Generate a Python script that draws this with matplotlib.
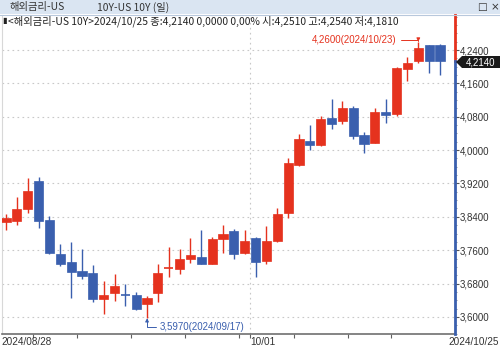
import datetime as dt
import matplotlib
matplotlib.use("Agg")
import matplotlib.pyplot as plt
from matplotlib.patches import Rectangle, Polygon
import numpy as np

dates = ["2024/08/28", "2024/08/29", "2024/08/30", "2024/09/03", "2024/09/04", "2024/09/05",
         "2024/09/06", "2024/09/09", "2024/09/10", "2024/09/11", "2024/09/12", "2024/09/13",
         "2024/09/16", "2024/09/17", "2024/09/18", "2024/09/19", "2024/09/20", "2024/09/23",
         "2024/09/24", "2024/09/25", "2024/09/26", "2024/09/27", "2024/09/30", "2024/10/01",
         "2024/10/02", "2024/10/03", "2024/10/04", "2024/10/07", "2024/10/08", "2024/10/09",
         "2024/10/10", "2024/10/11", "2024/10/15", "2024/10/16", "2024/10/17", "2024/10/18",
         "2024/10/21", "2024/10/22", "2024/10/23", "2024/10/24", "2024/10/25"]
opens = [3.828, 3.831, 3.859, 3.927, 3.832, 3.752, 3.731, 3.711, 3.706, 3.643, 3.658, 3.654,
         3.653, 3.632, 3.658, 3.717, 3.714, 3.740, 3.744, 3.727, 3.786, 3.806, 3.754, 3.790,
         3.734, 3.781, 3.850, 3.964, 4.023, 4.012, 4.077, 4.070, 4.102, 4.037, 4.018, 4.092,
         4.086, 4.194, 4.213, 4.252, 4.251]
highs = [3.846, 3.887, 3.934, 3.936, 3.842, 3.775, 3.779, 3.763, 3.724, 3.687, 3.704, 3.678,
         3.660, 3.651, 3.728, 3.768, 3.763, 3.790, 3.809, 3.792, 3.820, 3.810, 3.808, 3.792,
         3.817, 3.860, 3.981, 4.038, 4.060, 4.081, 4.122, 4.118, 4.105, 4.044, 4.101, 4.122,
         4.200, 4.224, 4.260, 4.252, 4.254]
lows = [3.808, 3.820, 3.850, 3.814, 3.752, 3.722, 3.646, 3.691, 3.635, 3.608, 3.638, 3.627,
        3.616, 3.597, 3.636, 3.696, 3.703, 3.730, 3.728, 3.727, 3.753, 3.739, 3.750, 3.696,
        3.726, 3.780, 3.838, 3.962, 4.000, 4.010, 4.050, 4.062, 4.026, 3.994, 4.016, 4.064,
        4.082, 4.166, 4.210, 4.184, 4.181]
closes = [3.836, 3.859, 3.903, 3.831, 3.754, 3.728, 3.708, 3.698, 3.643, 3.652, 3.674, 3.652,
          3.618, 3.645, 3.705, 3.719, 3.740, 3.748, 3.728, 3.787, 3.798, 3.750, 3.782, 3.732,
          3.783, 3.847, 3.968, 4.027, 4.013, 4.074, 4.062, 4.102, 4.034, 4.014, 4.092, 4.084,
          4.198, 4.210, 4.246, 4.214, 4.214]
yticks = [3.60, 3.68, 3.76, 3.84, 3.92, 4.00, 4.08, 4.16, 4.24]

RED = "#e5321e"
BLUE = "#3a5fae"
GRID = "#c8c8c8"
NARROW = ["Liberation Sans Narrow", "Liberation Sans"]

W, H = 500, 349
fig = plt.figure(figsize=(W / 100, H / 100), dpi=100)
fig.patch.set_facecolor("white")

def fx(px):
    return px / W

def fy(py):
    return 1 - py / H

# plot area in pixels
L, R, T, B = 2, 455, 15, 334
ax = fig.add_axes([fx(L), fy(B), fx(R - L), (B - T) / H])
ax.set_facecolor("white")

n = len(dates)
x = np.arange(n)
step = 10.85
ax.set_xlim(-(6 - L) / step, (R - 6) / step)
ax.set_ylim(3.559, 4.324)

bw = 0.84
for i in x:
    o, h, l, c = opens[i], highs[i], lows[i], closes[i]
    col = RED if c >= o else BLUE
    ax.vlines(i, l, h, color=col, linewidth=1.0, zorder=3)
    lo, hi = min(o, c), max(o, c)
    if hi - lo < 0.002:
        ax.hlines((o + c) / 2, i - bw / 2, i + bw / 2, color=col, linewidth=1.2, zorder=4)
    else:
        ax.add_patch(Rectangle((i - bw / 2, lo), bw, hi - lo, facecolor=col,
                               edgecolor=col, linewidth=0.5, zorder=4))

# grid
for v in yticks:
    ax.axhline(v, color=GRID, linestyle=(0, (1.5, 3)), linewidth=0.8, zorder=1)

dts = [dt.datetime.strptime(d, "%Y/%m/%d") for d in dates]
minor = []
month_pos = []
for i in range(1, n):
    if dts[i].month != dts[i - 1].month:
        month_pos.append(i - 0.5)
        minor.append(i - 0.5)
    elif dts[i].isocalendar()[1] != dts[i - 1].isocalendar()[1]:
        minor.append(i - 0.5)
for p in month_pos:
    if p > 10:
        ax.axvline(p, color=GRID, linestyle=(0, (1.5, 3)), linewidth=0.8, zorder=1)

ax.set_xticks(minor)
ax.set_xticklabels([])
ax.tick_params(axis="x", direction="out", length=3, color="#606060", width=0.8)

ax.yaxis.tick_right()
ax.set_yticks(yticks)
ax.set_yticks(np.arange(3.56, 4.33, 0.02), minor=True)
ax.set_yticklabels([f"{v:.4f}".replace(".", ",") for v in yticks],
                   fontsize=7, color="#333333", family=NARROW)
ax.tick_params(axis="y", which="major", direction="out", length=3, pad=0.5, color="#555555", width=0.8)
ax.tick_params(axis="y", which="minor", direction="out", length=1.5, color="#888888", width=0.6)

ax.spines["top"].set_visible(False)
ax.spines["left"].set_color("#d8d8d8")
ax.spines["bottom"].set_color("#707070")
ax.spines["bottom"].set_linewidth(1.2)
ax.spines["right"].set_visible(False)

# right axis line: red above last close, blue below
last = closes[-1]
xr = ax.get_xlim()[1]
ax.plot([xr, xr], [last, ax.get_ylim()[1]], color=RED, linewidth=2, clip_on=False, zorder=6)
ax.plot([xr, xr], [ax.get_ylim()[0], last], color=BLUE, linewidth=2, clip_on=False, zorder=6)

# current price tag
tag = Polygon([[fx(456), fy(62)], [fx(462), fy(56)], [fx(500), fy(56)], [fx(500), fy(68)], [fx(462), fy(68)]],
              closed=True, transform=fig.transFigure, facecolor="#1a1a1a", edgecolor="none", zorder=10)
fig.patches.append(tag)
fig.text(fx(466), fy(62.5), f"{last:.4f}".replace(".", ","), color="white", fontsize=7,
         va="center", ha="left", family=NARROW, zorder=11)

# x labels
lab_kw = dict(fontsize=7.2, color="#333333", family=NARROW, va="center")
fig.text(fx(1), fy(342), dates[0], ha="left", **lab_kw)
mi = int(month_pos[-1] + 0.5)
fig.text(fx(250), fy(342), dts[mi].strftime("%m/%d"), ha="left", **lab_kw)
fig.text(fx(499), fy(342), dates[-1], ha="right", **lab_kw)

# annotations
imax = int(np.argmax(highs))
imin = int(np.argmin(lows))
ax.annotate(f"{highs[imax]:.4f}({dates[imax]})".replace(".", ",", 1), xy=(imax, highs[imax]),
            xytext=(imax - 2.0, highs[imax] + 0.004), color=RED, fontsize=7, ha="right", va="center",
            family=NARROW,
            arrowprops=dict(arrowstyle="-|>", color=RED, lw=0.7, mutation_scale=5,
                            connectionstyle="angle,angleA=0,angleB=90,rad=0", shrinkA=1, shrinkB=0))
ax.annotate(f"{lows[imin]:.4f}({dates[imin]})".replace(".", ",", 1), xy=(imin, lows[imin]),
            xytext=(imin + 1.2, lows[imin] - 0.022), color=BLUE, fontsize=7, ha="left", va="center",
            family=NARROW,
            arrowprops=dict(arrowstyle="-|>", color=BLUE, lw=0.7, mutation_scale=5,
                            connectionstyle="angle,angleA=0,angleB=90,rad=0", shrinkA=1, shrinkB=0))

# title bar
fig.patches.append(Rectangle((0, fy(14)), 1, 14 / H, transform=fig.transFigure,
                             facecolor="#dae5f2", edgecolor="none", zorder=0))
fig.add_artist(plt.Line2D([0, 1], [fy(14.5), fy(14.5)], transform=fig.transFigure, color="#b8c8dc", lw=0.8))
kfont = ["Noto Sans CJK KR", "DejaVu Sans"]
fig.text(fx(10), fy(7), "해외금리-US", fontsize=7.4, family=kfont, color="#333333", va="center")
fig.text(fx(97), fy(7), "10Y-US 10Y (일)", fontsize=7.4, family=kfont, color="#333333", va="center")
fig.text(fx(478), fy(7), "□ ×", fontsize=7.5, family=["DejaVu Sans"], color="#333333", va="center")

# info line
fig.text(fx(2), fy(21), "▮", fontsize=6, family=["DejaVu Sans"], color="#222222", va="center")
info = (f"<해외금리-US 10Y>{dates[-1]} 종:{closes[-1]:.4f} 0,0000 0,00% "
        f"시:{opens[-1]:.4f} 고:{highs[-1]:.4f} 저:{lows[-1]:.4f}")
info = info.replace(".", ",")
fig.text(fx(8), fy(21), info, fontsize=7.4, family=kfont, color="#222222", va="center")

fig.savefig("out.png", dpi=100)
